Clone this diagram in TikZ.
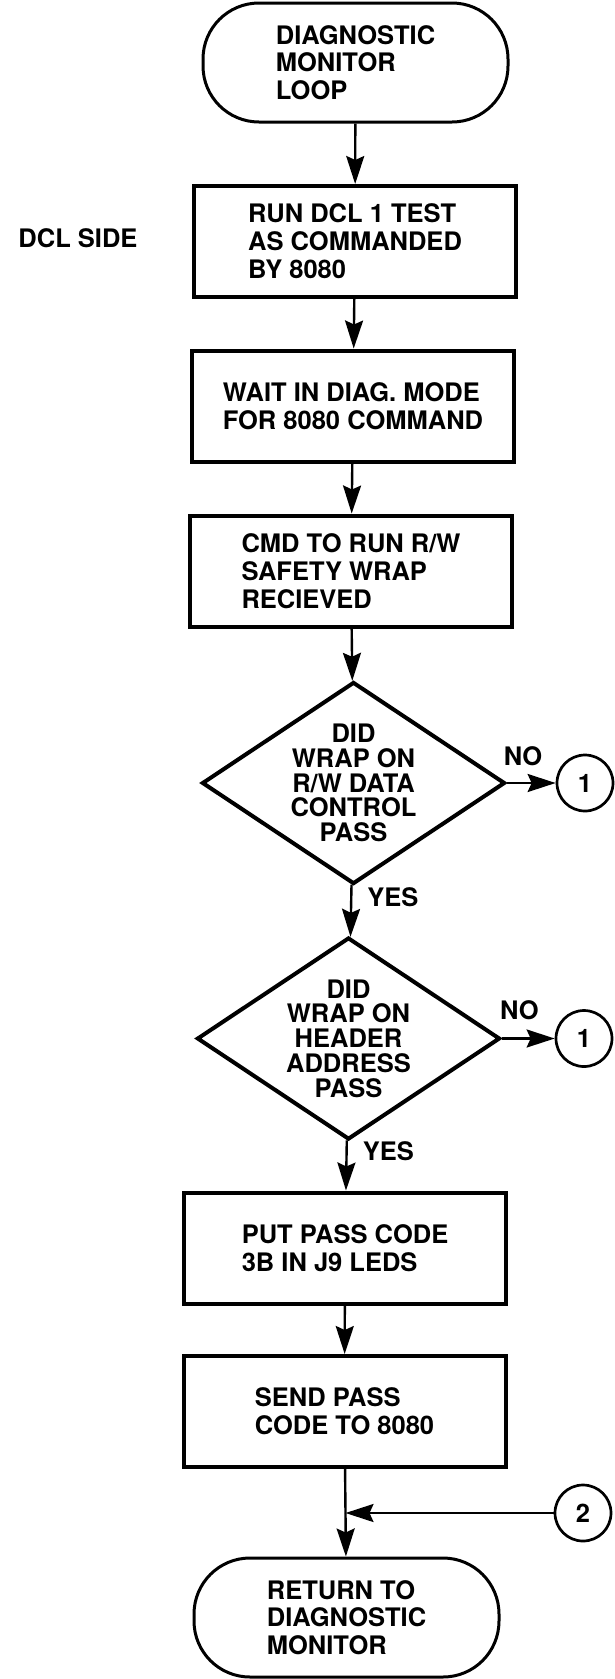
\documentclass[tikz,border=0pt]{standalone}
\usepackage{fontspec}
\setmainfont{TeX Gyre Heros}
\usetikzlibrary{shapes.geometric,arrows.meta}

\begin{document}
\begin{tikzpicture}[x=1pt,y=-1pt,
  font=\fontsize{25.5}{28}\selectfont\bfseries,
  term/.style={draw,line width=3pt,rounded corners=56pt,minimum width=305pt,minimum height=119pt,align=left,font=\fontsize{25.5}{27.5}\selectfont\bfseries},
  stepbox/.style={draw,line width=4pt,minimum width=322pt,minimum height=111pt,align=left,inner sep=0pt},
  decide/.style={diamond,draw,line width=4pt,aspect=1.5,minimum width=303pt,minimum height=202pt,inner sep=0pt,align=center,font=\fontsize{25.5}{24.75}\selectfont\bfseries},
  conn/.style={circle,draw,line width=2.7pt,minimum size=56pt,inner sep=0pt},
  lab/.style={inner sep=0pt},
  flow/.style={line width=2.4pt},
  arr/.style={flow,-{Stealth[length=28pt,width=18pt,inset=4pt]}}]
\useasboundingbox (0,0) rectangle (614,1679);
% main column
\node[term] (start) at (355.5,62.5) {DIAGNOSTIC\\MONITOR\\LOOP};
\node[stepbox] (run) at (355,241.5) {RUN DCL 1 TEST\\AS COMMANDED\\BY 8080};
\node[lab] (side) at (78,238.5) {DCL SIDE};
\node[stepbox] (wait) at (353,406) {WAIT IN DIAG. MODE\\FOR 8080 COMMAND};
\node[stepbox] (cmd) at (351,571) {CMD TO RUN R/W\\SAFETY WRAP\\RECIEVED};
\node[decide] (dataok) at (353.5,783) {DID\\WRAP ON\\R/W DATA\\CONTROL\\PASS};
\node[decide] (hdrok) at (348.5,1038.5) {DID\\WRAP ON\\HEADER\\ADDRESS\\PASS};
\node[stepbox] (putcode) at (345,1248) {PUT PASS CODE\\3B IN J9 LEDS};
\node[stepbox] (sendcode) at (344.5,1411.5) {SEND PASS\\CODE TO 8080};
\node[term] (finish) at (346.5,1617.5) {RETURN TO\\DIAGNOSTIC\\MONITOR};
% off-page connectors
\node[conn] (conA) at (585,783) {1};
\node[conn] (conB) at (584,1038.5) {1};
\node[conn] (conC) at (583,1513) {2};
\coordinate (join) at (345.5,1513);
% arrows
\draw[arr] (start) -- (run);
\draw[arr] (run) -- (wait);
\draw[arr] (wait) -- (cmd);
\draw[arr] (cmd) -- (dataok);
\draw[arr] (dataok) -- node[lab,pos=0.24,anchor=west,xshift=15pt]{YES} (hdrok);
\draw[arr] (dataok) -- node[lab,pos=0.33,anchor=south,yshift=16pt]{NO} (conA);
\draw[arr] (hdrok) -- node[lab,pos=0.33,anchor=south,yshift=18pt]{NO} (conB);
\draw[arr] (hdrok) -- node[lab,pos=0.22,anchor=west,xshift=15pt]{YES} (putcode);
\draw[arr] (putcode) -- (sendcode);
\draw[flow] (sendcode) -- (join);
\draw[arr] (conC) -- (join);
\draw[arr] (join) -- (finish);
\end{tikzpicture}
\end{document}
